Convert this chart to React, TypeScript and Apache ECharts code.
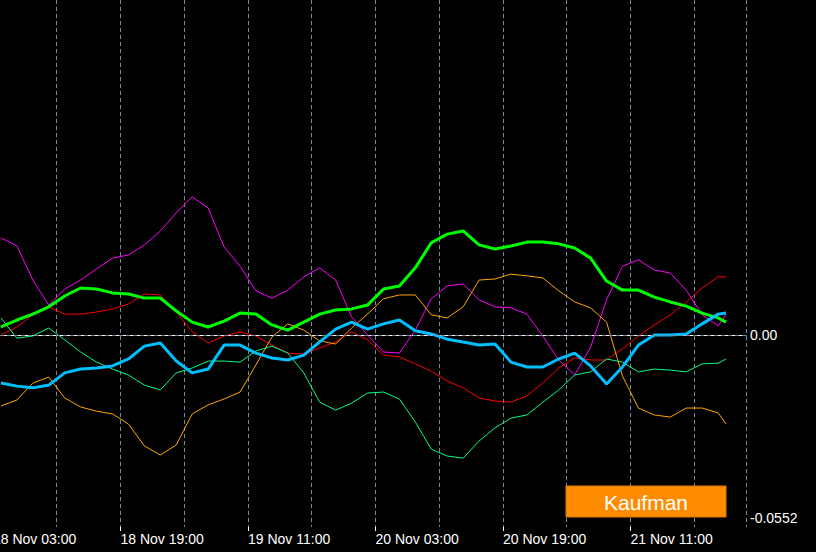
import React, { useEffect, useRef } from "react";
import * as echarts from "echarts";

// hours since 18 Nov 03:00
const HOURS = [1, 3, 5, 7, 9, 11, 13, 15, 17, 19, 21, 23, 25, 27, 29, 31, 33, 35, 37, 39, 41, 43, 45, 47, 49, 51, 53, 55, 57, 59, 61, 63, 65, 67, 69, 71, 73, 75, 77, 79, 81, 83, 85, 87, 89, 91, 92];

const TICK_LABELS = ["18 Nov 03:00", "18 Nov 19:00", "19 Nov 11:00", "20 Nov 03:00", "20 Nov 19:00", "21 Nov 11:00"];

const MAGENTA = [0.0279, 0.0256, 0.0158, 0.0086, 0.0132, 0.0158, 0.019, 0.0221, 0.023, 0.0259, 0.0299, 0.0351, 0.0397, 0.0365, 0.0253, 0.0198, 0.0127, 0.0106, 0.0129, 0.0167, 0.0193, 0.0158, 0.0052, 0.0, -0.0049, -0.0052, 0.0014, 0.0104, 0.0141, 0.0147, 0.0101, 0.0081, 0.0078, 0.006, -0.0003, -0.0072, -0.0115, -0.0035, 0.0101, 0.0198, 0.0216, 0.0187, 0.0178, 0.0129, 0.0058, 0.0026, 0.006];
const LIME = [0.0023, 0.0043, 0.006, 0.0081, 0.0112, 0.0135, 0.0132, 0.0121, 0.0118, 0.0106, 0.0106, 0.0069, 0.0037, 0.0023, 0.004, 0.0063, 0.006, 0.0029, 0.0014, 0.0037, 0.006, 0.0072, 0.0075, 0.0086, 0.0132, 0.0141, 0.0193, 0.0265, 0.029, 0.0299, 0.0259, 0.0247, 0.0256, 0.0267, 0.0267, 0.0262, 0.025, 0.0221, 0.0155, 0.0129, 0.0129, 0.0109, 0.0095, 0.0083, 0.0063, 0.0049, 0.0037];
const RED = [0.0, 0.0023, 0.0058, 0.0081, 0.006, 0.006, 0.0066, 0.0075, 0.0089, 0.0118, 0.0115, 0.0066, 0.0009, -0.0023, -0.0003, 0.0009, -0.0003, -0.0029, -0.0052, -0.0055, -0.0037, -0.002, 0.0009, -0.0014, -0.0058, -0.0063, -0.0083, -0.0104, -0.0132, -0.0152, -0.0181, -0.019, -0.0193, -0.0175, -0.0138, -0.0095, -0.0066, -0.0072, -0.0072, -0.004, -0.0003, 0.0029, 0.0058, 0.0095, 0.0135, 0.0167, 0.0167];
const SPRING = [0.0049, -0.0009, -0.0003, 0.002, -0.0014, -0.0049, -0.0078, -0.0098, -0.0115, -0.0144, -0.0158, -0.0109, -0.0095, -0.0075, -0.0075, -0.0078, -0.0046, -0.0032, -0.0052, -0.0109, -0.0193, -0.0216, -0.0196, -0.0167, -0.0164, -0.0184, -0.025, -0.0328, -0.0348, -0.0354, -0.0305, -0.0267, -0.0239, -0.023, -0.0193, -0.0158, -0.0115, -0.0106, -0.0069, -0.0078, -0.0106, -0.0098, -0.0101, -0.0106, -0.0083, -0.0081, -0.0069];
const ORANGE = [-0.0204, -0.0187, -0.0138, -0.0121, -0.0181, -0.0207, -0.0219, -0.0227, -0.0256, -0.0319, -0.0345, -0.0316, -0.0227, -0.0201, -0.0184, -0.0164, -0.0086, -0.0006, 0.0032, 0.0014, -0.0017, -0.0026, 0.002, 0.006, 0.0104, 0.0115, 0.0115, 0.0058, 0.0049, 0.0081, 0.0158, 0.0161, 0.0175, 0.017, 0.0164, 0.0127, 0.0095, 0.0078, 0.0037, -0.0118, -0.021, -0.023, -0.0236, -0.021, -0.021, -0.0224, -0.0256];
const BLUE = [-0.0138, -0.0147, -0.0152, -0.0144, -0.0109, -0.0098, -0.0095, -0.0089, -0.0069, -0.0032, -0.0023, -0.0075, -0.0109, -0.0098, -0.0029, -0.0029, -0.0052, -0.0066, -0.0072, -0.0058, -0.002, 0.0017, 0.0037, 0.0017, 0.0032, 0.0043, 0.0012, 0.0003, -0.0012, -0.002, -0.0029, -0.0026, -0.0078, -0.0092, -0.0092, -0.0069, -0.0052, -0.0089, -0.0141, -0.0092, -0.0029, 0.0, 0.0, 0.0003, 0.0032, 0.006, 0.0063];

const Y_MIN = -0.0552;
const Y_MAX = 0.0963;
const X_MIN = 0;
const X_MAX = 94.5;

const FONT = "'Liberation Sans', Arial, sans-serif";
const GRID_COLOR = "#778899";

function pts(arr: number[]) {
  return HOURS.map((h, i) => [h, arr[i]]);
}

export default function App() {
  const ref = useRef<HTMLDivElement>(null);
  useEffect(() => {
    document.body.style.margin = "0";
    document.body.style.background = "#000";
    document.body.style.overflow = "hidden";
    if (!ref.current) return;
    const chart = echarts.init(ref.current, null, { renderer: "svg" });
    const line = (name: string, arr: number[], color: string, width: number, extra: any = {}) => ({
      name,
      type: "line",
      data: pts(arr),
      showSymbol: false,
      symbol: "none",
      smooth: false,
      lineStyle: { color, width },
      itemStyle: { color },
      emphasis: { disabled: true },
      ...extra,
    });
    chart.setOption({
      animation: false,
      backgroundColor: "#000000",
      grid: { left: 0, right: 70, top: 0, bottom: 25, containLabel: false },
      xAxis: [
        {
          type: "value",
          min: X_MIN,
          max: X_MAX,
          interval: 8,
          axisLine: { show: true, lineStyle: { color: "#ffffff", width: 1 } },
          axisTick: { show: false },
          axisLabel: { show: false },
          splitLine: { show: true, lineStyle: { color: GRID_COLOR, type: [4, 3], width: 1 } },
        },
        {
          type: "value",
          min: X_MIN,
          max: X_MAX,
          interval: 16,
          position: "bottom",
          axisLine: { show: false },
          axisTick: { show: true, length: 4, lineStyle: { color: "#ffffff" } },
          splitLine: { show: false },
          axisLabel: {
            show: true,
            showMinLabel: true,
            showMaxLabel: false,
            align: "left",
            margin: 5,
            color: "#ffffff",
            fontFamily: FONT,
            fontSize: 14,
            formatter: (v: number) => {
              if (Math.abs(v % 16) > 1e-6) return "";
              const idx = Math.round(v / 16);
              return TICK_LABELS[idx] ?? "";
            },
          },
        },
      ],
      yAxis: {
        type: "value",
        position: "right",
        min: Y_MIN,
        max: Y_MAX,
        interval: 0.0552,
        axisLine: { show: true, lineStyle: { color: "#ffffff", width: 1 } },
        axisTick: { show: false },
        splitLine: { show: false },
        axisLabel: {
          show: true,
          showMaxLabel: false,
          margin: 4,
          color: "#ffffff",
          fontFamily: FONT,
          fontSize: 14,
          formatter: (v: number) => {
            if (Math.abs(v) < 1e-9) return "0.00";
            if (Math.abs(v - Y_MIN) < 1e-9) return "{m|-0.0552}";
            return "";
          },
          rich: {
            m: { color: "#ffffff", fontFamily: FONT, fontSize: 14, padding: [0, 0, 18, 0] },
          },
        },
      },
      series: [
        line("Magenta", MAGENTA, "#ff00ff", 1),
        line("Red", RED, "#ff0000", 1),
        line("SpringGreen", SPRING, "#00ff7f", 1),
        line("Orange", ORANGE, "#ffa500", 1),
        line("Lime", LIME, "#00ff00", 3),
        line("DeepSkyBlue", BLUE, "#00bfff", 3, {
          markLine: {
            silent: true,
            symbol: ["none", "none"],
            label: { show: false },
            lineStyle: { color: GRID_COLOR, type: [4, 3], width: 1 },
            data: [{ yAxis: 0 }],
          },
        }),
      ],
      graphic: [
        {
          type: "rect",
          shape: { x: 576, y: 486, width: 160, height: 31 },
          style: { fill: "#ff8c00", stroke: "#e07b00", lineWidth: 1 },
          z: 100,
        },
        {
          type: "text",
          x: 656,
          y: 502,
          style: {
            text: "Kaufman",
            fill: "#ffffff",
            font: `21px ${FONT}`,
            textAlign: "center",
            textVerticalAlign: "middle",
          },
          z: 101,
        },
      ],
    });
    return () => chart.dispose();
  }, []);
  return (
    <div
      ref={ref}
      style={{ position: "absolute", left: -10, top: 0, width: 826, height: 552 }}
    />
  );
}
